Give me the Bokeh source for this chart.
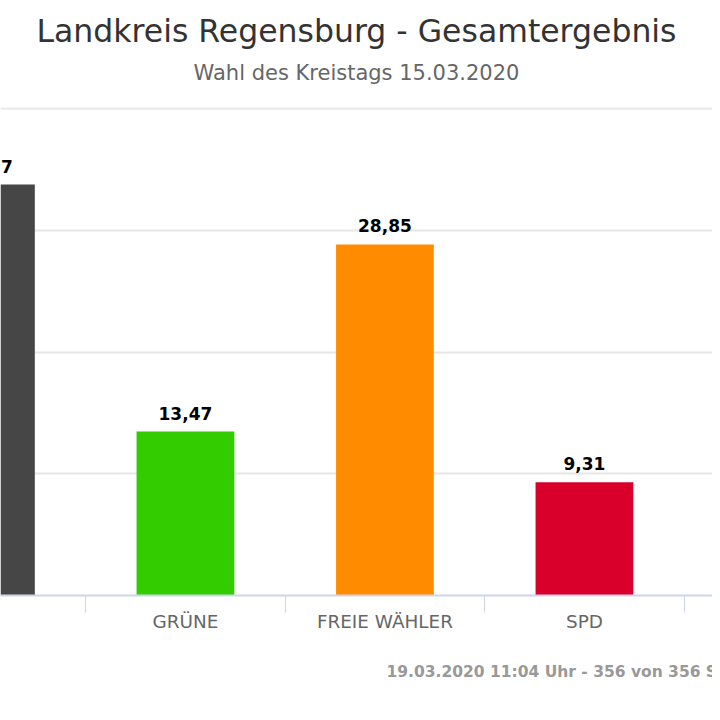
from bokeh.plotting import figure
from bokeh.models import Title, FixedTicker, Range1d, LinearAxis, ColumnDataSource, Grid
from bokeh.embed import file_html
from bokeh.resources import INLINE

parties = ["CSU", "GRÜNE", "FREIE WÄHLER", "SPD"]
shares = [33.77, 13.47, 28.85, 9.31]
colors = ["#464646", "#33cc00", "#ff8c00", "#d9002b"]
title_text = "Landkreis Regensburg - Gesamtergebnis"
subtitle_text = "Wahl des Kreistags 15.03.2020"
footer_text = "19.03.2020 11:04 Uhr - 356 von 356 Stimmbezirken"
y_ticks = [0, 10, 20, 30, 40]

xs = list(range(len(parties)))
labels = [f"{v:.2f}".replace(".", ",") for v in shares]
src = ColumnDataSource(dict(x=xs, top=shares, color=colors, label=labels))

FONT = "DejaVu Sans"

p = figure(width=712, height=712, output_backend="svg", toolbar_location=None,
           x_range=Range1d(0.073, 3.642), y_range=Range1d(0, 40.1),
           x_axis_type=None, y_axis_type=None,
           min_border_left=0, min_border_right=0, min_border_top=107, min_border_bottom=117)
p.outline_line_color = None
p.background_fill_color = "white"
p.border_fill_color = "white"

grid = Grid(dimension=1, ticker=FixedTicker(ticks=y_ticks),
            grid_line_color="#e6e6e6", grid_line_width=2)
p.add_layout(grid)

p.vbar(x="x", top="top", bottom=0, width=0.49, color="color", line_color=None, source=src)
p.text(x="x", y="top", text="label", source=src, text_align="center", text_baseline="bottom",
       y_offset=-12, text_font_size="17px", text_font_style="bold", text_color="#000000",
       text_font={"value": FONT})

ax = LinearAxis(ticker=FixedTicker(ticks=xs, minor_ticks=[i - 0.5 for i in xs] + [xs[-1] + 0.5]))
ax.major_label_overrides = {i: name for i, name in zip(xs, parties)}
ax.major_tick_line_color = None
ax.major_tick_out = 0
ax.major_tick_in = 0
ax.minor_tick_out = 17
ax.minor_tick_in = 0
ax.minor_tick_line_color = "#ccd6eb"
ax.minor_tick_line_width = 1
ax.axis_line_color = "#ccd6eb"
ax.axis_line_width = 2
ax.major_label_standoff = -2
ax.major_label_text_font = FONT
ax.major_label_text_font_size = "18.4px"
ax.major_label_text_color = "#666666"
p.add_layout(ax, "below")

p.add_layout(Title(text=footer_text, align="left", offset=386, text_color="#999999",
                   text_font_size="15.5px", text_font_style="bold", text_font=FONT,
                   standoff=52), "below")

# spacer between subtitle and plot area
p.add_layout(Title(text=" ", align="center", text_font_size="1px", standoff=20), "above")
p.add_layout(Title(text=subtitle_text, align="center", text_color="#666666",
                   text_font_size="21px", text_font_style="normal", text_font=FONT,
                   standoff=0), "above")
p.add_layout(Title(text=title_text, align="center", text_color="#333333",
                   text_font_size="31.5px", text_font_style="normal", text_font=FONT,
                   standoff=20), "above")

open("out.html", "w").write(file_html(p, INLINE))
